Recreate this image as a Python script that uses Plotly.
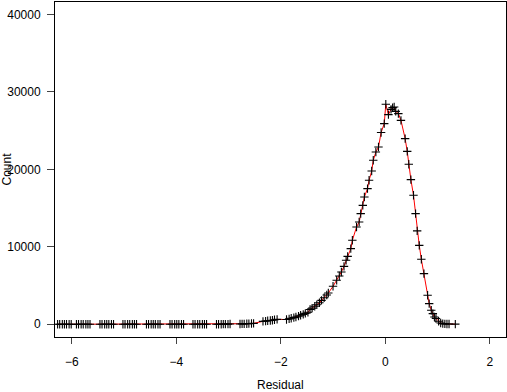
import plotly.graph_objects as go

# residual bins (x) and counts (y)
residual = [
    -6.27, -6.23, -6.18, -6.14, -6.10, -6.05, -6.01,
    -5.91, -5.87, -5.82, -5.78, -5.73, -5.69, -5.65,
    -5.46, -5.42, -5.37, -5.33, -5.29, -5.24, -5.20,
    -5.02, -4.98, -4.93, -4.89, -4.84, -4.80, -4.76,
    -4.57, -4.53, -4.48, -4.44, -4.40, -4.35, -4.31,
    -4.12, -4.08, -4.03, -3.99, -3.95, -3.90, -3.86,
    -3.68, -3.64, -3.59, -3.55, -3.50, -3.46, -3.42,
    -3.23, -3.19, -3.14, -3.10, -3.06, -3.01, -2.97,
    -2.78, -2.74, -2.70, -2.65, -2.61, -2.56, -2.52,
    -2.34, -2.29, -2.25, -2.20, -2.16, -2.12, -2.07,
    -1.89, -1.84, -1.80, -1.75, -1.71, -1.66, -1.62, -1.57, -1.53, -1.48,
    -1.44, -1.40, -1.35, -1.31, -1.26, -1.22, -1.17, -1.12,
    -1.09, -1.00, -0.93, -0.88, -0.84, -0.79, -0.75, -0.72, -0.66, -0.63,
    -0.55, -0.50, -0.47, -0.43, -0.40, -0.34, -0.31, -0.26, -0.23, -0.18,
    -0.13, -0.08, -0.02, 0.01, 0.06, 0.11, 0.14, 0.17, 0.20, 0.25,
    0.30, 0.38, 0.42, 0.45, 0.49, 0.54, 0.58, 0.61, 0.65, 0.69,
    0.74, 0.81, 0.84, 0.88, 0.91, 0.94, 0.97, 1.02, 1.06, 1.10,
    1.14, 1.18, 1.22, 1.34,
]
count = [
    0, 0, 0, 0, 0, 0, 0,
    0, 0, 0, 0, 0, 0, 0,
    0, 0, 0, 0, 0, 0, 0,
    0, 0, 0, 0, 0, 0, 0,
    0, 0, 0, 0, 0, 0, 0,
    0, 0, 0, 0, 0, 0, 0,
    0, 0, 0, 0, 0, 0, 0,
    10, 10, 10, 20, 20, 20, 30,
    40, 50, 60, 70, 80, 100, 120,
    380, 410, 450, 490, 530, 580, 630,
    620, 700, 780, 860, 950, 1050, 1160, 1280, 1410, 1550,
    1900, 2080, 2320, 2520, 2780, 3080, 3420, 3780,
    4040, 4900, 5680, 6230, 6750, 7480, 8260, 8770, 9770, 10840,
    12550, 13200, 14280, 15350, 16430, 17510, 18580, 19780, 21160, 22230,
    22880, 24740, 25900, 28390, 27060, 27740, 27960, 28040, 27480, 27190,
    26320, 23960, 22320, 20650, 18670, 16650, 14280, 12060, 10190, 8390,
    6540, 3740, 2670, 1810, 1380, 940, 740, 390, 170, 90,
    60, 40, 30, 20,
]

x_ticks = [-6, -4, -2, 0, 2]
y_ticks = [0, 10000, 20000, 30000, 40000]

font = dict(family="Liberation Sans, Arial, sans-serif", size=12, color="black")

fig = go.Figure()
fig.add_trace(go.Scatter(
    x=residual, y=count, mode="lines",
    line=dict(color="red", width=1),
    hoverinfo="skip",
))
fig.add_trace(go.Scatter(
    x=residual, y=count, mode="markers",
    marker=dict(symbol="cross-thin", size=6,
                line=dict(color="black", width=1.1)),
))

axis_common = dict(
    showgrid=False, zeroline=False, automargin=False,
    showline=True, mirror=True, linecolor="black", linewidth=1,
    ticks="outside", tickcolor="#444", tickwidth=1,
    tickfont=font,
)
fig.update_xaxes(range=[-6.32, 2.31], tickvals=x_ticks,
                 ticktext=[str(v).replace("-", "\u2212") for v in x_ticks],
                 ticklen=6, ticklabelstandoff=8, **axis_common)
fig.update_yaxes(range=[-1640, 41590], tickvals=y_ticks,
                 ticktext=[str(v) for v in y_ticks],
                 ticklen=7, ticklabelstandoff=4, **axis_common)

fig.add_annotation(text="Residual", xref="paper", yref="paper", x=0.5, y=0,
                   xanchor="center", yanchor="middle", yshift=-48,
                   showarrow=False, font=font)
fig.add_annotation(text="Count", xref="paper", yref="paper", x=0, y=0.5,
                   xanchor="center", yanchor="middle", xshift=-49,
                   textangle=-90, showarrow=False, font=font)

fig.update_layout(
    width=507, height=392,
    margin=dict(l=55, r=1, t=2, b=55),
    paper_bgcolor="white", plot_bgcolor="white",
    showlegend=False,
)

# drop the default page margin so the figure sits at the window's corner
fig.write_html("out.html",
               config={"displayModeBar": False},
               post_script="document.body.style.margin='0';"
                           "document.body.style.overflow='hidden';")
